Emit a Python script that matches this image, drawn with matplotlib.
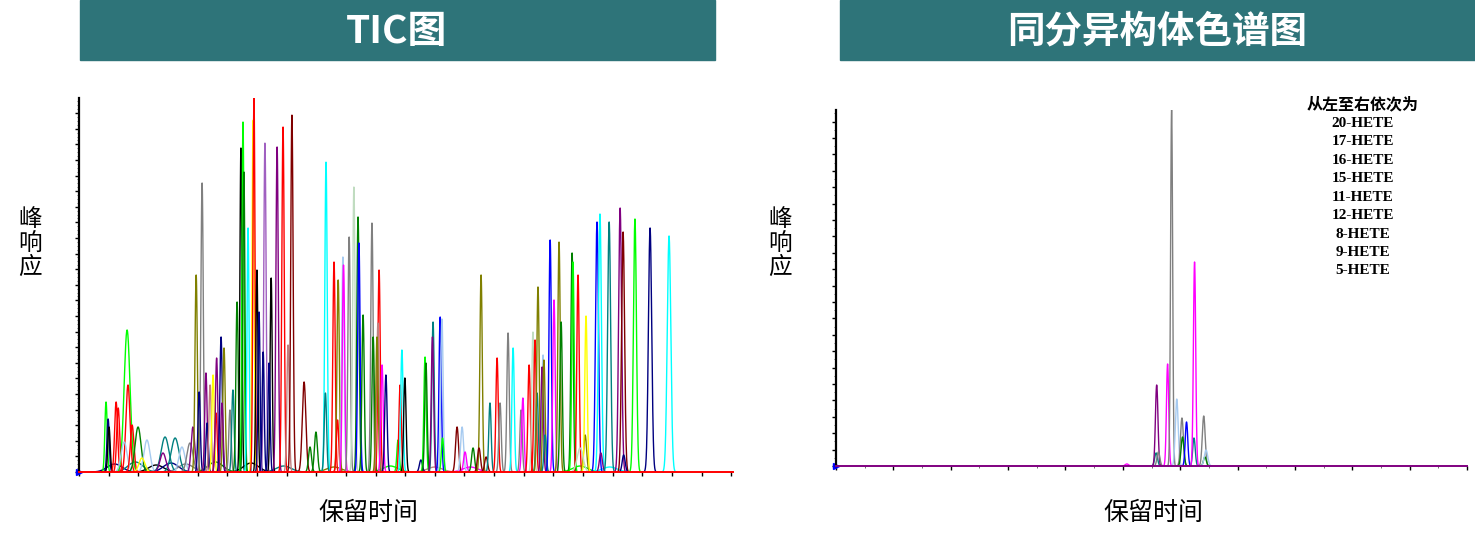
import numpy as np
import matplotlib
matplotlib.use('Agg')
import matplotlib.pyplot as plt
from matplotlib.patches import Rectangle
from matplotlib.ticker import MultipleLocator

plt.rcParams['font.family'] = ['Noto Sans CJK SC', 'DejaVu Sans']

# colour names used by the instrument software
C = {
    'lime': '#00FF00', 'navy': '#000080', 'black': '#000000', 'red': '#FF0000',
    'cyan': '#00FFFF', 'teal': '#008080', 'purple': '#800080', 'olive': '#808000',
    'gray': '#808080', 'dred': '#800000', 'mag': '#FF00FF', 'blue': '#0000FF',
    'yellow': '#FFFF00', 'lblue': '#A6CAF0', 'dgreen': '#008000', 'pale': '#C0DCC0',
    'rosy': '#C08080', 'lilac': '#A060C0',
}

# TIC: retention time, peak height, colour, peak sigma
tic_rt = [0.91, 0.98, 1.01, 1.25, 1.32, 1.62, 1.65, 1.52, 1.79, 1.99, 2.29, 2.12,
          2.90, 3.24, 2.83, 3.47, 3.74, 3.84, 3.95, 4.15, 4.05, 4.28, 4.32, 4.42,
          4.52, 4.62, 4.64, 4.79, 4.89, 4.82, 5.09, 5.19, 5.33, 5.46, 5.53, 5.56,
          5.70, 5.87, 5.90, 6.00, 6.07, 6.27, 6.21, 6.48, 6.68, 6.41, 6.88, 7.05,
          7.18, 7.59, 7.79, 7.99, 8.33, 8.31, 8.60, 8.74, 8.72, 8.90, 8.92, 9.11,
          9.27, 9.41, 9.44, 9.58, 9.88, 9.92, 10.12, 10.08, 10.05, 10.22, 10.35,
          10.76, 10.83, 10.89, 10.99, 11.53, 11.67, 11.70, 11.94, 11.92, 12.18,
          12.24, 12.26, 12.75, 12.92, 13.02, 13.29, 13.56, 13.49, 13.73, 13.86,
          14.10, 14.20, 14.47, 14.64, 14.91, 14.97, 15.18, 15.31, 15.38, 15.45,
          15.48, 15.65, 15.62, 15.68, 15.72, 15.89, 16.02, 16.19, 16.26, 16.63,
          16.66, 16.83, 17.07, 17.10, 16.90, 17.47, 17.57, 17.60, 17.88, 18.25,
          18.35, 18.37, 18.75, 19.26, 19.90]
tic_height = [70, 53, 45, 70, 64, 142, 87, 30, 47, 45, 32, 14,
              35, 34, 19, 25, 29, 45, 197, 289, 80, 99, 49, 87,
              97, 59, 114, 135, 124, 69, 62, 82, 170, 324, 350, 300,
              244, 352, 374, 202, 160, 329, 120, 194, 325, 109, 345, 127,
              357, 90, 25, 40, 310, 79, 210, 192, 52, 215, 207, 235,
              285, 255, 229, 157, 249, 135, 202, 149, 135, 107, 97,
              32, 87, 122, 94, 12, 115, 109, 150, 135, 155,
              153, 34, 45, 45, 20, 24, 197, 24, 15, 69,
              114, 69, 139, 124, 62, 74, 107, 140, 132, 79,
              185, 117, 105, 112, 37, 232, 172, 230, 150, 219,
              210, 197, 37, 156, 24, 250, 258, 19, 250, 264,
              240, 17, 253, 244, 236]
tic_color = ['lime', 'navy', 'black', 'red', 'red', 'lime', 'red', 'lblue', 'red', 'dgreen', 'lblue', 'yellow',
             'teal', 'teal', 'purple', 'lblue', 'gray', 'purple', 'olive', 'gray', 'navy', 'purple', 'navy', 'rosy',
             'yellow', 'red', 'purple', 'navy', 'olive', 'purple', 'gray', 'teal', 'dgreen', 'black', 'lime', 'dgreen',
             'cyan', 'yellow', 'red', 'black', 'navy', 'lilac', 'navy', 'black', 'purple', 'navy', 'red', 'rosy',
             'dred', 'dred', 'dgreen', 'dgreen', 'cyan', 'teal', 'red', 'olive', 'red', 'lblue', 'mag', 'gray',
             'pale', 'dgreen', 'blue', 'dgreen', 'gray', 'dgreen', 'red', 'rosy', 'olive', 'mag', 'navy',
             'lime', 'red', 'cyan', 'black', 'navy', 'lime', 'dgreen', 'teal', 'purple', 'blue',
             'lblue', 'lime', 'dred', 'lblue', 'mag', 'dgreen', 'olive', 'dred', 'dred', 'teal',
             'red', 'gray', 'gray', 'cyan', 'gray', 'mag', 'red', 'pale', 'red', 'teal',
             'olive', 'lblue', 'purple', 'olive', 'teal', 'blue', 'mag', 'olive', 'dgreen', 'dgreen',
             'lime', 'red', 'olive', 'yellow', 'pale', 'blue', 'cyan', 'purple', 'teal', 'purple',
             'dred', 'navy', 'lime', 'navy', 'cyan']
tic_sigma = [0.04, 0.04, 0.04, 0.05, 0.05, 0.10, 0.07, 0.10, 0.06, 0.10, 0.10, 0.10,
             0.13, 0.13, 0.10, 0.10, 0.10, 0.06, 0.04, 0.04, 0.04, 0.04, 0.04, 0.04,
             0.04, 0.04, 0.04, 0.04, 0.04, 0.04, 0.04, 0.04, 0.04, 0.035, 0.035, 0.035,
             0.035, 0.035, 0.035, 0.035, 0.035, 0.04, 0.035, 0.035, 0.04, 0.035, 0.04, 0.04,
             0.04, 0.06, 0.05, 0.05, 0.04, 0.04, 0.04, 0.04, 0.04, 0.04, 0.04, 0.04,
             0.04, 0.04, 0.04, 0.04, 0.04, 0.04, 0.04, 0.04, 0.04, 0.04, 0.04,
             0.04, 0.04, 0.04, 0.04, 0.05, 0.04, 0.04, 0.04, 0.04, 0.04,
             0.04, 0.04, 0.05, 0.05, 0.05, 0.05, 0.04, 0.05, 0.05, 0.04,
             0.04, 0.04, 0.04, 0.04, 0.04, 0.04, 0.04, 0.04, 0.04, 0.04,
             0.04, 0.04, 0.04, 0.04, 0.04, 0.04, 0.04, 0.04, 0.04, 0.04,
             0.04, 0.04, 0.05, 0.04, 0.10, 0.05, 0.05, 0.05, 0.05, 0.05,
             0.05, 0.05, 0.05, 0.055, 0.06]

# low broad humps along the TIC baseline
hump_rt = [1.2, 1.9, 2.6, 3.1, 3.6, 4.6, 5.8, 6.9, 8.6, 10.5, 12.0, 13.2, 16.9, 17.9]
hump_height = [8, 10, 7, 9, 8, 10, 9, 6, 5, 6, 5, 5, 6, 5]
hump_color = ['navy', 'teal', 'black', 'navy', 'gray', 'dgreen', 'black', 'teal',
              'olive', 'lime', 'rosy', 'mag', 'lime', 'cyan']

# isomer chromatogram (HETE)
iso_rt = [5.07, 5.58, 5.59, 5.62, 5.78, 5.85, 5.94, 6.03, 6.04, 6.11, 6.24, 6.25, 6.41, 6.43, 6.45]
iso_height = [2, 13, 81, 14, 102, 356, 67, 48, 29, 44, 28, 204, 50, 9, 16]
iso_color = ['mag', 'teal', 'purple', 'gray', 'mag', 'gray', 'lblue', 'gray', 'dgreen', 'blue',
             'teal', 'mag', 'gray', 'dgreen', 'lblue']
iso_sigma = [0.03, 0.025, 0.022, 0.025, 0.02, 0.018, 0.025, 0.025, 0.025, 0.022,
             0.022, 0.02, 0.025, 0.025, 0.03]
iso_names = ['20-HETE', '17-HETE', '16-HETE', '15-HETE', '11-HETE',
             '12-HETE', '8-HETE', '9-HETE', '5-HETE']

header_color = '#2E7479'

fig = plt.figure(figsize=(14.75, 5.36), dpi=100)


def draw_peaks(ax, rt, height, color, sigma, xmax):
    x = np.linspace(0, xmax, 8000)
    for r, h, c, s in zip(rt, height, color, sigma):
        y = h * np.exp(-0.5 * ((x - r) / s) ** 2)
        m = y > 0.05
        ax.plot(x[m], y[m], color=C[c], lw=1.0)


def style_axes(ax, base_color, ymaj, ymin_, xmaj, xmin_):
    for s in ['top', 'right']:
        ax.spines[s].set_visible(False)
    ax.spines['left'].set_color('black')
    ax.spines['left'].set_linewidth(1.6)
    ax.spines['bottom'].set_color(base_color)
    ax.spines['bottom'].set_linewidth(1.4)
    ax.yaxis.set_major_locator(MultipleLocator(ymaj))
    ax.yaxis.set_minor_locator(MultipleLocator(ymin_))
    ax.xaxis.set_major_locator(MultipleLocator(xmaj))
    ax.xaxis.set_minor_locator(MultipleLocator(xmin_))
    ax.tick_params(which='major', length=3, width=1, color='black',
                   labelleft=False, labelbottom=False)
    ax.tick_params(which='minor', length=1.5, width=0.6, color='#555555')
    ax.plot([0], [0], marker='>', color='blue', ms=4, clip_on=False)


# left: TIC
ax1 = fig.add_axes([0.0536, 0.1194, 0.4434, 0.6978])
draw_peaks(ax1, hump_rt, hump_height, hump_color, [0.25] * len(hump_rt), 22.06)
draw_peaks(ax1, tic_rt, tic_height, tic_color, tic_sigma, 22.06)
ax1.set_xlim(0, 22.06)
ax1.set_ylim(0, 374)
style_axes(ax1, 'red', 15.6, 3.9, 1, 1)

# right: isomers
ax2 = fig.add_axes([0.5668, 0.1306, 0.4278, 0.6642])
draw_peaks(ax2, iso_rt, iso_height, iso_color, iso_sigma, 11.0)
ax2.set_xlim(0, 11.0)
ax2.set_ylim(0, 356)
style_axes(ax2, '#800080', 16.4, 8.2, 1, 0.5)

ax2.text(0.835, 1.017, '从左至右依次为', transform=ax2.transAxes, ha='center', va='center',
         fontsize=11.5, fontweight='bold', color='black')
for i, name in enumerate(iso_names):
    ax2.text(0.835, 0.963 - i * 0.0519, name, transform=ax2.transAxes, ha='center', va='center',
             fontsize=11, fontweight='bold', family='Liberation Serif', color='black')

# header bars
fig.patches.append(Rectangle((80 / 1475, 1 - 60 / 536), 635 / 1475, 60 / 536,
                             transform=fig.transFigure, color=header_color, zorder=0))
fig.patches.append(Rectangle((840 / 1475, 1 - 60 / 536), 635 / 1475, 60 / 536,
                             transform=fig.transFigure, color=header_color, zorder=0))
fig.text(397 / 1475, 1 - 31 / 536, 'TIC图', color='white', fontsize=28, fontweight='bold',
         ha='center', va='center')
fig.text(1157 / 1475, 1 - 31 / 536, '同分异构体色谱图', color='white', fontsize=27,
         fontweight='bold', ha='center', va='center')

# axis labels
for xl, yl in [(30, 243), (780, 243)]:
    fig.text(xl / 1475, 1 - yl / 536, '峰\n响\n应', fontsize=17, ha='center', va='center',
             linespacing=1.05)
fig.text(368 / 1475, 1 - 513 / 536, '保留时间', fontsize=18, ha='center', va='center')
fig.text(1153 / 1475, 1 - 513 / 536, '保留时间', fontsize=18, ha='center', va='center')

fig.savefig('out.png', dpi=100)
